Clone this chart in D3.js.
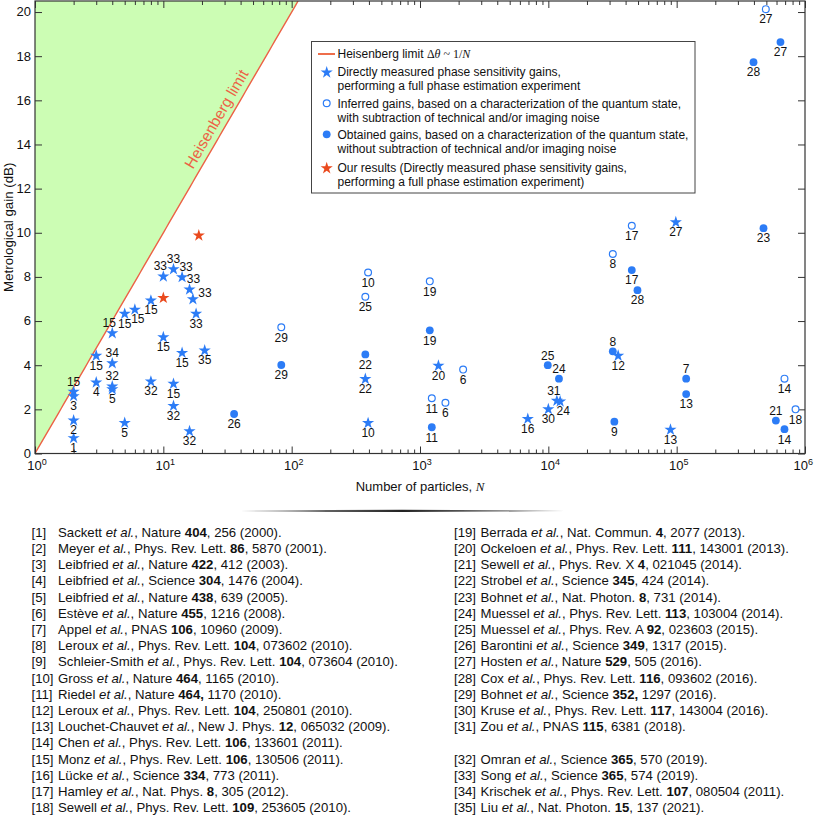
<!DOCTYPE html>
<html><head><meta charset="utf-8">
<script src="https://cdn.jsdelivr.net/npm/d3@7"></script>
<style>
html,body{margin:0;padding:0;background:#fff;}
svg{display:block;font-family:"Liberation Sans",Arial,sans-serif;}
</style></head>
<body><svg id="c" width="814" height="818"></svg>
<script>
// ---------- data ----------
// directly measured phase sensitivity gains: [N, gain (dB), reference, label placement]
const directStars = [
  [2, 0.72, 1, 'b'], [2, 1.52, 2, 'b'], [2, 2.82, 15, 'a'], [2, 2.62, 3, 'b'],
  [3, 3.24, 4, 'b'], [3, 4.45, 15, 'b'],
  [4, 4.11, 34, 'a'], [4, 5.47, 15, 'al'], [4, 3.06, 32, 'a'], [4, 2.93, 5, 'b'],
  [5, 1.41, 5, 'b'], [5, 6.35, 15, 'b'], [6, 6.54, 15, 'br'], [8, 6.95, 15, 'b'],
  [10, 8.04, 33, 'al'], [12, 8.37, 33, 'a'], [14, 8.01, 33, 'ar'], [16, 7.45, 33, 'ar'],
  [17, 7.01, 33, 'r'], [18, 6.35, 33, 'b'],
  [10, 5.29, 15, 'b'], [14, 4.58, 15, 'b'], [21, 4.69, 35, 'b'],
  [8, 3.28, 32, 'b'], [12, 3.18, 15, 'b'], [12, 2.18, 32, 'b'], [16, 1.03, 32, 'b'],
  [375, 3.40, 22, 'b'], [394, 1.40, 10, 'b'], [1392, 4.00, 20, 'b'], [6918, 1.59, 16, 'b'],
  [35000, 4.45, 12, 'b'], [11650, 2.41, 31, 'al'], [12360, 2.38, 24, 'br'],
  [10000, 2.03, 30, 'b'], [89500, 1.10, 13, 'b'], [98500, 10.50, 27, 'b']
];
// inferred gains (open circles)
const inferredOpen = [
  [83, 5.72, 29, 'b'], [394, 8.20, 10, 'b'], [375, 7.10, 25, 'b'], [1192, 7.80, 19, 'b'],
  [2168, 3.80, 6, 'b'], [1236, 2.50, 11, 'b'], [1578, 2.30, 6, 'b'],
  [44700, 10.32, 17, 'b'], [31800, 9.04, 8, 'b'], [692000, 3.39, 14, 'b'],
  [844000, 2.00, 18, 'b'], [495000, 20.13, 27, 'b']
];
// obtained gains (filled circles)
const obtainedFilled = [
  [35.6, 1.79, 26, 'b'], [83, 4.01, 29, 'b'], [375, 4.49, 22, 'b'], [1192, 5.58, 19, 'b'],
  [1236, 1.19, 11, 'b'], [44700, 8.31, 17, 'b'], [49500, 7.40, 28, 'b'],
  [31800, 4.63, 8, 'a'], [9900, 4.00, 25, 'a'], [12100, 3.39, 24, 'a'],
  [32700, 1.44, 9, 'b'], [118600, 3.39, 7, 'a'], [118600, 2.69, 13, 'b'],
  [593000, 1.49, 21, 'a'], [692000, 1.10, 14, 'b'], [475000, 10.21, 23, 'b'],
  [644000, 18.64, 27, 'b'], [397000, 17.73, 28, 'b']
];
// our results (red stars)
const ourResults = [[10, 7.07], [18.9, 9.9]];

const yTicks = [0, 2, 4, 6, 8, 10, 12, 14, 16, 18, 20];
const xMajorTicks = [1, 10, 100, 1000, 10000, 100000, 1000000];
const xTickExponents = ["0", "1", "2", "3", "4", "5", "6"];

const legendItems = [
  ["line", ["Heisenberg limit "]],
  ["star", ["Directly measured phase sensitivity gains,", "performing a full phase estimation experiment"]],
  ["open", ["Inferred gains, based on a characterization of the quantum state,", "with subtraction of technical and/or imaging noise"]],
  ["filled", ["Obtained gains, based on a characterization of the quantum state,", "without subtraction of technical and/or imaging noise"]],
  ["red", ["Our results (Directly measured phase sensitivity gains,", "performing a full phase estimation experiment)"]]
];

// references: [number, author, journal, volume, rest]
const references = [
  [1, "Sackett", "Nature", "404", ", 256 (2000)."],
  [2, "Meyer", "Phys. Rev. Lett.", "86", ", 5870 (2001)."],
  [3, "Leibfried", "Nature", "422", ", 412 (2003)."],
  [4, "Leibfried", "Science", "304", ", 1476 (2004)."],
  [5, "Leibfried", "Nature", "438", ", 639 (2005)."],
  [6, "Estève", "Nature", "455", ", 1216 (2008)."],
  [7, "Appel", "PNAS", "106", ", 10960 (2009)."],
  [8, "Leroux", "Phys. Rev. Lett.", "104", ", 073602 (2010)."],
  [9, "Schleier-Smith", "Phys. Rev. Lett.", "104", ", 073604 (2010)."],
  [10, "Gross", "Nature", "464", ", 1165 (2010)."],
  [11, "Riedel", "Nature", "464,", " 1170 (2010)."],
  [12, "Leroux", "Phys. Rev. Lett.", "104", ", 250801 (2010)."],
  [13, "Louchet-Chauvet", "New J. Phys.", "12", ", 065032 (2009)."],
  [14, "Chen", "Phys. Rev. Lett.", "106", ", 133601 (2011)."],
  [15, "Monz", "Phys. Rev. Lett.", "106", ", 130506 (2011)."],
  [16, "Lücke", "Science", "334", ", 773 (2011)."],
  [17, "Hamley", "Nat. Phys.", "8", ", 305 (2012)."],
  [18, "Sewell", "Phys. Rev. Lett.", "109", ", 253605 (2010)."],
  [19, "Berrada", "Nat. Commun.", "4", ", 2077 (2013)."],
  [20, "Ockeloen", "Phys. Rev. Lett.", "111", ", 143001 (2013)."],
  [21, "Sewell", "Phys. Rev. X", "4", ", 021045 (2014)."],
  [22, "Strobel", "Science", "345", ", 424 (2014)."],
  [23, "Bohnet", "Nat. Photon.", "8", ", 731 (2014)."],
  [24, "Muessel", "Phys. Rev. Lett.", "113", ", 103004 (2014)."],
  [25, "Muessel", "Phys. Rev. A", "92", ", 023603 (2015)."],
  [26, "Barontini", "Science", "349", ", 1317 (2015)."],
  [27, "Hosten", "Nature", "529", ", 505 (2016)."],
  [28, "Cox", "Phys. Rev. Lett.", "116", ", 093602 (2016)."],
  [29, "Bohnet", "Science", "352,", " 1297 (2016)."],
  [30, "Kruse", "Phys. Rev. Lett.", "117", ", 143004 (2016)."],
  [31, "Zou", "PNAS", "115", ", 6381 (2018)."],
  [32, "Omran", "Science", "365", ", 570 (2019)."],
  [33, "Song", "Science", "365", ", 574 (2019)."],
  [34, "Krischek", "Phys. Rev. Lett.", "107", ", 080504 (2011)."],
  [35, "Liu", "Nat. Photon.", "15", ", 137 (2021)."]
];

// ---------- drawing ----------
const svg = d3.select("#c");
const blue = "#2c7cf6", red = "#ea4a1e", hlColor = "#ec6246", green = "#ccfdb4";
const plotL = 35, plotR = 805, plotT = 1, plotB = 453.5;

const x = d3.scaleLog().domain([1, 1e6]).range([plotL, plotR]);
const y = d3.scaleLinear().domain([0, 20.5]).range([plotB, plotT]);

const defs = svg.append("defs");
defs.append("clipPath").attr("id", "plotclip").append("rect")
  .attr("x", plotL).attr("y", plotT).attr("width", plotR - plotL).attr("height", plotB - plotT);

// Heisenberg limit: gain = 10 log10 N
const nMax = Math.pow(10, 20.5 / 10);
const hlN = d3.range(0, 101).map(i => Math.pow(nMax, i / 100));
const hl = hlN.map(n => [n, 10 * Math.log10(n)]);
const gPlot = svg.append("g").attr("clip-path", "url(#plotclip)");
gPlot.append("path")
  .datum(hl)
  .attr("d", d3.area().x(d => x(d[0])).y0(y(20.5)).y1(d => y(d[1])))
  .attr("fill", green);
gPlot.append("path")
  .datum(hl)
  .attr("d", d3.line().x(d => x(d[0])).y(d => y(d[1])))
  .attr("fill", "none").attr("stroke", hlColor).attr("stroke-width", 1.4);

// Heisenberg limit text along the line
{
  const dB = 14.9, n = Math.pow(10, dB / 10);
  const px = x(n), py = y(dB);
  const ang = Math.atan2(y(10) - y(0), x(10) - x(1)) * 180 / Math.PI; // negative
  const a = ang * Math.PI / 180;
  const off = 6;
  const ox = px + off * Math.sin(a), oy = py - off * Math.cos(a);
  svg.append("text").attr("transform", `translate(${ox},${oy}) rotate(${ang})`)
    .attr("text-anchor", "middle").attr("font-size", 15.5).attr("fill", hlColor)
    .text("Heisenberg limit");
}

// axes ticks (inward)
const xMinor = [];
for (let e = 0; e < 6; e++) for (let k = 2; k <= 9; k++) xMinor.push(k * Math.pow(10, e));
const axG = svg.append("g").attr("class", "axes");
function styleAxis(g) {
  g.select(".domain").remove();
  g.selectAll("line").attr("stroke", "#333").attr("stroke-width", 1);
  g.selectAll("text").remove();
}
axG.append("g").attr("transform", `translate(0,${plotB})`)
  .call(d3.axisBottom(x).tickValues(xMajorTicks).tickSize(-7).tickFormat("")).call(styleAxis);
axG.append("g").attr("transform", `translate(0,${plotB})`)
  .call(d3.axisBottom(x).tickValues(xMinor).tickSize(-4).tickFormat("")).call(styleAxis);
axG.append("g").attr("transform", `translate(0,${plotT})`)
  .call(d3.axisTop(x).tickValues(xMajorTicks).tickSize(-7).tickFormat("")).call(styleAxis);
axG.append("g").attr("transform", `translate(0,${plotT})`)
  .call(d3.axisTop(x).tickValues(xMinor).tickSize(-4).tickFormat("")).call(styleAxis);
axG.append("g").attr("transform", `translate(${plotL},0)`)
  .call(d3.axisLeft(y).tickValues(yTicks).tickSize(-7).tickFormat("")).call(styleAxis);
axG.append("g").attr("transform", `translate(${plotR},0)`)
  .call(d3.axisRight(y).tickValues(yTicks).tickSize(-7).tickFormat("")).call(styleAxis);

svg.append("rect").attr("x", plotL).attr("y", plotT).attr("width", plotR - plotL).attr("height", plotB - plotT)
  .attr("fill", "none").attr("stroke", "#333").attr("stroke-width", 1.2);

// y tick labels
svg.append("g").selectAll("text").data(yTicks).join("text")
  .attr("x", plotL - 4).attr("y", d => y(d) + 4.4)
  .attr("text-anchor", "end").attr("font-size", 13).attr("fill", "#111")
  .text(d => d);

// x tick labels 10^k
const lastTick = xMajorTicks[xMajorTicks.length - 1];
const xl = svg.append("g").selectAll("text").data(xMajorTicks).join("text")
  .attr("x", d => d === lastTick ? 813 : x(d) + 2).attr("y", plotB + 16)
  .attr("text-anchor", d => d === lastTick ? "end" : "middle")
  .attr("font-size", 13).attr("fill", "#111");
xl.append("tspan").text("10");
xl.append("tspan").attr("font-size", 9).attr("dy", -5).text((d, i) => xTickExponents[i]);

// axis titles
{
  const t = svg.append("text").attr("x", (plotL + plotR) / 2).attr("y", plotB + 37)
    .attr("text-anchor", "middle").attr("font-size", 13).attr("fill", "#111");
  t.append("tspan").text("Number of particles, ");
  t.append("tspan").attr("font-family", "Liberation Serif,Times New Roman,serif").attr("font-style", "italic").text("N");
}
svg.append("text").attr("transform", `translate(13,${(plotT + plotB) / 2}) rotate(-90)`)
  .attr("text-anchor", "middle").attr("font-size", 13.3).attr("fill", "#111")
  .text("Metrological gain (dB)");

// markers
const starPath = d3.symbol().type(d3.symbolStar).size(46)();
const placement = {
  b: [0, 10], a: [0, -10], al: [-3, -10], ar: [4, -10], br: [3, 10], r: [12, -6]
};
const gMarks = svg.append("g");
gMarks.selectAll("circle.open").data(inferredOpen).join("circle").attr("class", "open")
  .attr("cx", d => x(d[0])).attr("cy", d => y(d[1])).attr("r", 3.4)
  .attr("fill", "#fff").attr("stroke", blue).attr("stroke-width", 1.2);
gMarks.selectAll("circle.filled").data(obtainedFilled).join("circle").attr("class", "filled")
  .attr("cx", d => x(d[0])).attr("cy", d => y(d[1])).attr("r", 3.9)
  .attr("fill", blue);
gMarks.selectAll("path.star").data(directStars).join("path").attr("class", "star")
  .attr("d", starPath).attr("transform", d => `translate(${x(d[0])},${y(d[1]) + 0.5})`)
  .attr("fill", blue);
gMarks.selectAll("path.ours").data(ourResults).join("path").attr("class", "ours")
  .attr("d", starPath).attr("transform", d => `translate(${x(d[0])},${y(d[1]) + 0.5})`)
  .attr("fill", red);

// point labels
const allLabeled = [].concat(directStars, inferredOpen, obtainedFilled);
svg.append("g").selectAll("text").data(allLabeled).join("text")
  .attr("x", d => x(d[0]) + placement[d[3]][0])
  .attr("y", d => y(d[1]) + placement[d[3]][1] + 4.3)
  .attr("text-anchor", "middle").attr("font-size", 12).attr("fill", "#111")
  .text(d => d[2]);

// legend
{
  const lx = 311.5, ly = 41.5, lw = 383.5, lh = 151.5;
  const g = svg.append("g");
  g.append("rect").attr("x", lx).attr("y", ly).attr("width", lw).attr("height", lh)
    .attr("fill", "#fff").attr("stroke", "#444").attr("stroke-width", 1);
  const symX = 326.7, txtX = 337.5;
  const rowY = [54, 72, 103.3, 134.3, 167.7];
  legendItems.forEach((it, i) => {
    const cy = rowY[i];
    if (it[0] === "line") {
      g.append("line").attr("x1", 318).attr("x2", 335).attr("y1", cy).attr("y2", cy)
        .attr("stroke", red).attr("stroke-width", 1.6);
    } else if (it[0] === "star" || it[0] === "red") {
      g.append("path").attr("d", starPath).attr("transform", `translate(${symX},${cy + 0.5})`)
        .attr("fill", it[0] === "red" ? red : blue);
    } else if (it[0] === "open") {
      g.append("circle").attr("cx", symX).attr("cy", cy).attr("r", 3.4)
        .attr("fill", "#fff").attr("stroke", blue).attr("stroke-width", 1.2);
    } else {
      g.append("circle").attr("cx", symX).attr("cy", cy).attr("r", 3.9).attr("fill", blue);
    }
    it[1].forEach((line, j) => {
      const t = g.append("text").attr("x", txtX).attr("y", cy + 4.3 + j * 13.9)
        .attr("font-size", 12).attr("fill", "#111");
      t.append("tspan").text(line);
      if (it[0] === "line") {
        const serif = "Liberation Serif,Times New Roman,serif";
        t.append("tspan").attr("font-family", serif).text("Δ");
        t.append("tspan").attr("font-family", serif).attr("font-style", "italic").text("θ");
        t.append("tspan").attr("font-family", serif).text(" ~ 1/");
        t.append("tspan").attr("font-family", serif).attr("font-style", "italic").text("N");
      }
    });
  });
}

// separator
{
  const grad = defs.append("linearGradient").attr("id", "sepgrad").attr("x1", "0").attr("x2", "1").attr("y1", "0").attr("y2", "0");
  grad.append("stop").attr("offset", "0").attr("stop-color", "#aaa");
  grad.append("stop").attr("offset", "0.5").attr("stop-color", "#222");
  grad.append("stop").attr("offset", "1").attr("stop-color", "#aaa");
  svg.append("path").attr("d", "M240,511 Q402,508.6 565,511 Q402,513.2 240,511 Z").attr("fill", "url(#sepgrad)");
}

// references
{
  const g = svg.append("g");
  const rowStep = 16.2, y0 = 536.8;
  const fs = 13.2;
  references.forEach(r => {
    const n = r[0];
    let col, row;
    if (n <= 18) { col = 0; row = n - 1; }
    else if (n <= 31) { col = 1; row = n - 19; }
    else { col = 1; row = n - 32 + 14; }
    const bx = col === 0 ? 31.5 : 454;
    const tx = col === 0 ? 58 : 480.5;
    const yy = y0 + row * rowStep;
    g.append("text").attr("x", bx).attr("y", yy).attr("font-size", fs).attr("fill", "#111").text(`[${n}]`);
    const t = g.append("text").attr("x", tx).attr("y", yy).attr("font-size", fs).attr("fill", "#111");
    t.append("tspan").text(r[1] + " ");
    t.append("tspan").attr("font-style", "italic").text("et al.");
    t.append("tspan").text(", " + r[2] + " ");
    t.append("tspan").attr("font-weight", "bold").text(r[3]);
    t.append("tspan").text(r[4]);
  });
}
</script></body></html>
